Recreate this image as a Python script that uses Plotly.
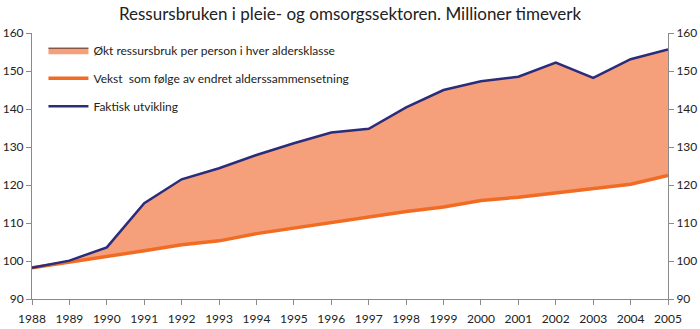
import plotly.graph_objects as go

years = list(range(1988, 2006))
faktisk = [98.2, 100.1, 103.6, 115.2, 121.5, 124.4, 127.9, 131.0, 133.8, 134.8,
           140.4, 145.0, 147.3, 148.5, 152.2, 148.2, 153.1, 155.7]
vekst = [98.2, 99.7, 101.0, 102.7, 104.3, 105.3, 107.2, 108.7, 110.2, 111.5,
         113.0, 114.2, 115.9, 116.8, 117.9, 119.0, 120.2, 122.5]

title = "Ressursbruken i pleie- og omsorgssektoren. Millioner timeverk"
name_fill = "Økt ressursbruk per person i hver aldersklasse"
name_vekst = "Vekst  som følge av endret alderssammensetning"
name_faktisk = "Faktisk utvikling"

FONT = "Lato, Roboto, Arial, sans-serif"
FILL = "#F6A07B"
ORANGE = "#F26B23"
NAVY = "#2B2D7C"
AXIS = "#8a8a8a"

fig = go.Figure()

# base of the shaded band (not in legend)
fig.add_trace(go.Scatter(x=years, y=vekst, mode="lines", line=dict(width=0, color=ORANGE),
                         showlegend=False, hoverinfo="skip"))
# shaded band between the two series
fig.add_trace(go.Scatter(x=years, y=faktisk, mode="lines", fill="tonexty", fillcolor=FILL,
                         line=dict(width=1, color="#4a2418"), name=name_fill,
                         legendgroup="a", legendrank=1))
fig.add_trace(go.Scatter(x=years, y=vekst, mode="lines", line=dict(width=3.5, color=ORANGE),
                         name=name_vekst, legendgroup="b", legendrank=2))
fig.add_trace(go.Scatter(x=years, y=faktisk, mode="lines", line=dict(width=2.5, color=NAVY),
                         name=name_faktisk, legendgroup="c", legendrank=3))
# carrier for the right-hand axis
fig.add_trace(go.Scatter(x=years, y=faktisk, yaxis="y2", mode="lines", opacity=0,
                         showlegend=False, hoverinfo="skip"))

fig.update_layout(
    width=700, height=329,
    margin=dict(l=32, r=32, t=33, b=30, autoexpand=False),
    paper_bgcolor="white", plot_bgcolor="white",
    font=dict(family=FONT, size=12, color="#222"),
    title=dict(text=title, x=0.5, xanchor="center", y=0.958, yanchor="middle",
               font=dict(family=FONT, size=17, color="#222")),
    showlegend=True,
    legend=dict(x=0.018, y=0.99, xanchor="left", yanchor="top", bgcolor="rgba(0,0,0,0)",
                font=dict(family=FONT, size=12, color="#222"), tracegroupgap=9,
                itemwidth=40),
    xaxis=dict(range=[1988, 2005], tickmode="array", tickvals=years,
               ticktext=[str(y) for y in years], showgrid=False, zeroline=False,
               showline=True, linecolor=AXIS, linewidth=1, ticks="outside",
               ticklen=5, tickcolor=AXIS, tickfont=dict(size=12), ticklabelstandoff=4,
               automargin=False),
    yaxis=dict(range=[90, 160], dtick=10, showgrid=False, zeroline=False,
               showline=True, linecolor=AXIS, linewidth=1, ticks="outside",
               ticklen=5, tickcolor=AXIS, tickfont=dict(size=12), automargin=False),
    yaxis2=dict(range=[90, 160], dtick=10, overlaying="y", side="right",
                showgrid=False, zeroline=False, showline=True, linecolor=AXIS,
                linewidth=1, ticks="outside", ticklen=5, tickcolor=AXIS,
                tickfont=dict(size=12), automargin=False),
)

fig.write_html("out.html")
